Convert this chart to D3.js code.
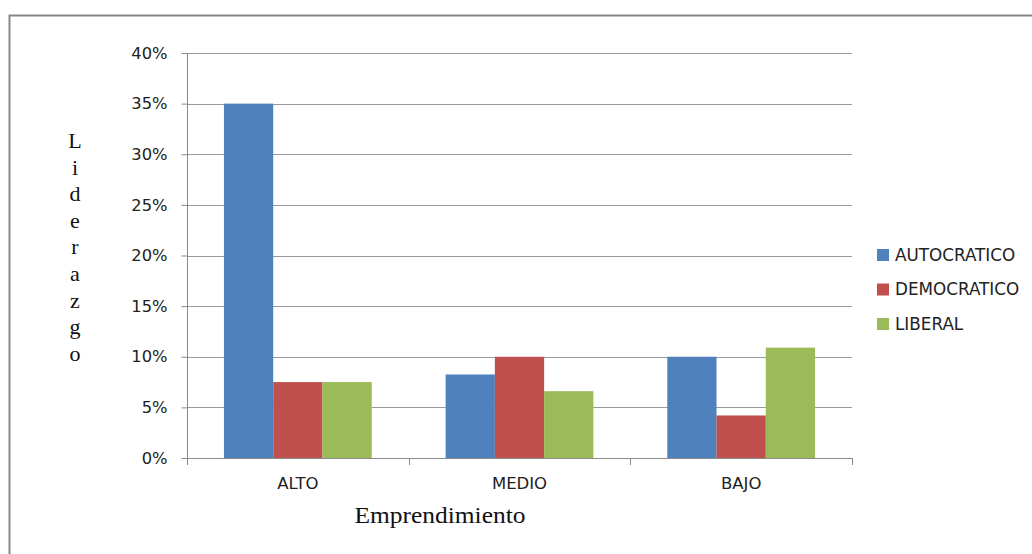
<!DOCTYPE html>
<html>
<head>
<meta charset="utf-8">
<script src="https://cdn.jsdelivr.net/npm/d3@7"></script>
<style>
  html, body { margin: 0; padding: 0; background: #fff; }
  svg { display: block; }
</style>
</head>
<body>
<svg id="chart" width="1032" height="554"></svg>
<script>
// Leadership style share by entrepreneurship level
const categories = ["ALTO", "MEDIO", "BAJO"];
const seriesNames = ["AUTOCRATICO", "DEMOCRATICO", "LIBERAL"];
const autocratico = [0.35, 0.0825, 0.10];
const democratico = [0.075, 0.10, 0.042];
const liberal = [0.075, 0.066, 0.109];
const yTicks = [0, 0.05, 0.10, 0.15, 0.20, 0.25, 0.30, 0.35, 0.40];
const colors = ["#4F81BD", "#C0504D", "#9BBB59"];

const seriesValues = [autocratico, democratico, liberal];
const rows = categories.map((c, i) => ({
  cat: c,
  vals: seriesNames.map((s, k) => ({ key: s, value: seriesValues[k][i], color: colors[k] }))
}));

const svg = d3.select("#chart");
const sans = "'DejaVu Sans', Verdana, sans-serif";
const serif = "'Liberation Serif', 'Times New Roman', serif";

// outer frame
svg.append("rect")
  .attr("x", 9.5).attr("y", 15.5)
  .attr("width", 1040).attr("height", 560)
  .attr("fill", "none").attr("stroke", "#878787").attr("stroke-width", 2);

const plotLeft = 187, plotRight = 852, plotTop = 53, plotBottom = 458;

const x0 = d3.scaleBand().domain(categories).range([plotLeft, plotRight]).paddingInner(0).paddingOuter(0);
const gap = 1.5; // gap width relative to one bar
const barW = x0.bandwidth() / (seriesNames.length + gap);
const x1 = d3.scaleBand().domain(seriesNames)
  .range([barW * gap / 2, barW * gap / 2 + barW * seriesNames.length]).padding(0);
const y = d3.scaleLinear().domain([0, 0.40]).range([plotBottom, plotTop]);

// gridlines
svg.append("g")
  .selectAll("line")
  .data(yTicks)
  .join("line")
  .attr("x1", plotLeft).attr("x2", plotRight)
  .attr("y1", d => Math.round(y(d)) + 0.5).attr("y2", d => Math.round(y(d)) + 0.5)
  .attr("stroke", "#9a9a9a").attr("stroke-width", 1);

// bars
const groups = svg.append("g")
  .selectAll("g")
  .data(rows)
  .join("g")
  .attr("transform", d => `translate(${x0(d.cat)},0)`);

groups.selectAll("rect")
  .data(d => d.vals)
  .join("rect")
  .attr("x", d => x1(d.key))
  .attr("width", x1.bandwidth())
  .attr("y", d => y(d.value))
  .attr("height", d => y(0) - y(d.value))
  .attr("fill", d => d.color);

// y axis
const yAxis = d3.axisLeft(y)
  .tickValues(yTicks)
  .tickFormat(d3.format(".0%"))
  .tickSize(6)
  .tickPadding(14);
const gy = svg.append("g").attr("transform", `translate(${plotLeft + 0.5},0)`).call(yAxis);
gy.select(".domain").attr("stroke", "#8a8a8a").attr("d", `M0,${plotTop}V${plotBottom}`);
gy.selectAll(".tick line").attr("stroke", "#8a8a8a");
gy.selectAll(".tick text")
  .attr("fill", "#222")
  .attr("font-family", sans)
  .attr("font-size", 16.3);

// x axis
const xAxis = d3.axisBottom(x0).tickSize(0).tickPadding(19);
const gx = svg.append("g").attr("transform", `translate(0,${plotBottom + 0.5})`).call(xAxis);
gx.select(".domain").attr("stroke", "#8a8a8a").attr("d", `M${plotLeft},0H${plotRight}`);
gx.selectAll(".tick text")
  .attr("fill", "#222")
  .attr("font-family", sans)
  .attr("font-size", 16.5);
// category separators
const sepPos = [plotLeft, ...categories.map(c => x0(c) + x0.bandwidth())];
svg.append("g")
  .selectAll("line")
  .data(sepPos)
  .join("line")
  .attr("x1", d => Math.round(d) + 0.5).attr("x2", d => Math.round(d) + 0.5)
  .attr("y1", plotBottom).attr("y2", plotBottom + 7)
  .attr("stroke", "#8a8a8a");

// axis titles
svg.append("text")
  .attr("x", 440).attr("y", 523)
  .attr("text-anchor", "middle")
  .attr("font-family", serif)
  .attr("font-size", 24)
  .attr("textLength", 171)
  .attr("lengthAdjust", "spacingAndGlyphs")
  .attr("fill", "#111")
  .text("Emprendimiento");

const yTitle = "Liderazgo";
svg.append("text")
  .attr("font-family", serif)
  .attr("font-size", 22)
  .attr("fill", "#111")
  .attr("text-anchor", "middle")
  .selectAll("tspan")
  .data(yTitle.split(""))
  .join("tspan")
  .attr("x", 75)
  .attr("y", (d, i) => 148 + i * 26.6)
  .text(d => d);

// legend
const legend = svg.append("g")
  .selectAll("g")
  .data(seriesNames)
  .join("g")
  .attr("transform", (d, i) => `translate(877,${255 + i * 34.5})`);
legend.append("rect")
  .attr("x", 0).attr("y", -6).attr("width", 12).attr("height", 12)
  .attr("fill", (d, i) => colors[i]);
legend.append("text")
  .attr("x", 18).attr("y", 0).attr("dy", "0.35em")
  .attr("font-family", sans)
  .attr("font-size", 16.8)
  .attr("fill", "#222")
  .text(d => d);
</script>
</body>
</html>
